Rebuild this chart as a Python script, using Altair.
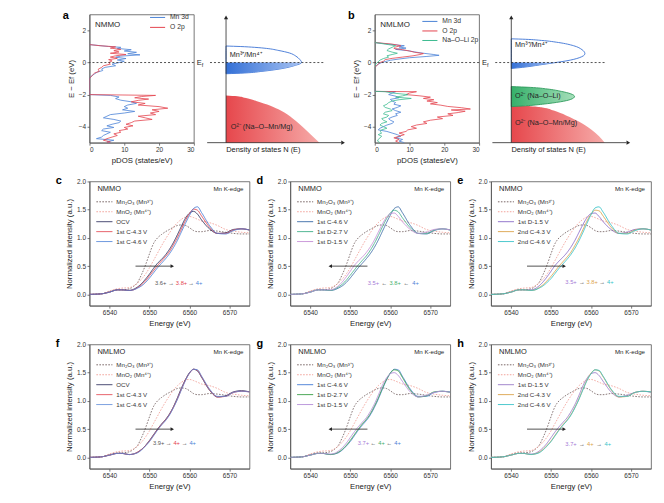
import altair as alt
import pandas as pd

FONT = "Liberation Sans"
INK = "#262626"

# ---------------- a / b : projected DOS  (E - Ef [eV], pDOS [states/eV]) ----------------
A_MN3D = [(1.12, 0), (1.0, 5.5), (0.95, 9), (0.88, 8), (0.8, 12), (0.72, 10), (0.64, 13.5), (0.55, 11),
          (0.48, 14.5), (0.40, 9), (0.33, 7.5), (0.25, 10.5), (0.16, 8), (0.08, 10), (0.0, 8.5), (-0.1, 6.5),
          (-0.2, 7.5), (-0.3, 4.5), (-0.4, 3.5), (-0.5, 3.8), (-0.6, 2.2), (-0.7, 1.5), (-0.85, 0.5), (-1.0, 0),
          (-2.0, 0), (-2.05, 6), (-2.15, 8.5), (-2.25, 7.5), (-2.35, 9), (-2.45, 12), (-2.55, 13.5), (-2.65, 11),
          (-2.75, 10), (-2.85, 11), (-2.95, 9.5), (-3.05, 13), (-3.15, 10), (-3.25, 6), (-3.35, 5), (-3.45, 4),
          (-3.55, 7), (-3.65, 9), (-3.75, 8.5), (-3.85, 6.5), (-3.95, 5), (-4.05, 7), (-4.15, 4), (-4.25, 3.5),
          (-4.35, 6), (-4.45, 5), (-4.55, 4), (-4.65, 3.5), (-4.75, 2), (-4.85, 7), (-4.95, 5), (-5.0, 6)]
A_O2P = [(1.12, 0), (1.05, 3), (0.98, 7.5), (0.9, 6), (0.82, 9), (0.74, 7), (0.66, 8.5), (0.58, 6),
         (0.5, 10.5), (0.42, 7.5), (0.34, 6), (0.26, 8), (0.18, 5.5), (0.1, 6.5), (0.0, 5.5), (-0.1, 6),
         (-0.2, 4), (-0.3, 3.5), (-0.42, 2.5), (-0.55, 2.8), (-0.65, 1.5), (-0.8, 0.8), (-0.95, 0.2), (-1.0, 0),
         (-2.0, 0), (-2.05, 19), (-2.12, 15), (-2.2, 13), (-2.28, 17), (-2.36, 14), (-2.45, 12), (-2.55, 16),
         (-2.65, 14), (-2.75, 20), (-2.85, 22.5), (-2.95, 18), (-3.05, 20), (-3.15, 17.5), (-3.25, 19),
         (-3.35, 14), (-3.45, 16), (-3.55, 18), (-3.65, 13), (-3.75, 12), (-3.85, 10.5), (-3.95, 12.5),
         (-4.05, 10), (-4.15, 11), (-4.25, 8.5), (-4.35, 9), (-4.45, 7), (-4.55, 8), (-4.65, 6.5), (-4.75, 5),
         (-4.85, 4), (-4.95, 6), (-5.0, 5)]
B_MN3D = [(1.25, 0), (1.15, 4), (1.05, 8.5), (0.97, 7), (0.9, 9), (0.82, 6), (0.74, 9.5), (0.66, 11.5),
          (0.58, 14), (0.5, 17), (0.45, 18.5), (0.38, 15), (0.3, 10), (0.22, 7), (0.14, 4.5), (0.06, 3),
          (0.0, 2), (-0.1, 1), (-0.2, 0.5), (-0.3, 0), (-1.8, 0), (-1.82, 6), (-1.9, 5), (-2.0, 4), (-2.1, 6),
          (-2.2, 7), (-2.3, 4.5), (-2.4, 5), (-2.5, 6), (-2.6, 5.5), (-2.7, 7.5), (-2.8, 6.5), (-2.9, 5),
          (-3.0, 6), (-3.1, 7.5), (-3.2, 6), (-3.3, 6.5), (-3.4, 5), (-3.5, 4), (-3.6, 4.5), (-3.7, 5.5),
          (-3.8, 5), (-3.9, 3.5), (-4.0, 2.5), (-4.1, 1.5), (-4.2, 1), (-4.3, 3.5), (-4.4, 5), (-4.5, 6.5),
          (-4.6, 7.5), (-4.7, 6), (-4.8, 8), (-4.9, 7), (-5.0, 8.5)]
B_O2P = [(1.25, 0), (1.15, 5), (1.05, 7.5), (0.97, 6), (0.88, 5.5), (0.8, 8), (0.72, 10), (0.64, 11.5),
         (0.56, 14), (0.5, 13), (0.42, 11), (0.34, 8), (0.26, 5), (0.18, 3), (0.08, 2.5), (0.0, 1.5),
         (-0.1, 1), (-0.2, 0.5), (-0.3, 0), (-1.8, 0), (-1.82, 12), (-1.9, 10), (-2.0, 9), (-2.08, 13),
         (-2.16, 16), (-2.24, 14), (-2.32, 17), (-2.4, 15), (-2.5, 18), (-2.58, 16), (-2.66, 19), (-2.74, 21),
         (-2.82, 25), (-2.9, 27.5), (-2.96, 22), (-3.04, 26), (-3.12, 24), (-3.2, 21), (-3.3, 22.5),
         (-3.4, 18), (-3.5, 19.5), (-3.6, 16), (-3.7, 14), (-3.8, 15), (-3.9, 12), (-4.0, 10.5), (-4.1, 12),
         (-4.2, 9.5), (-4.3, 9), (-4.4, 7), (-4.5, 8.5), (-4.6, 7), (-4.7, 5.5), (-4.8, 7), (-4.9, 6), (-5.0, 7)]
B_NAOLI = [(1.25, 0), (1.15, 3), (1.05, 6), (0.95, 5), (0.85, 4), (0.75, 3.5), (0.65, 5), (0.58, 6.5),
           (0.5, 5), (0.42, 3.5), (0.34, 4), (0.25, 2.5), (0.15, 1.5), (0.05, 1), (-0.05, 0.5), (-0.2, 0),
           (-1.8, 0), (-1.82, 3), (-1.9, 5), (-2.0, 9.5), (-2.08, 8), (-2.16, 6), (-2.24, 10.5), (-2.32, 7),
           (-2.4, 5), (-2.5, 4), (-2.6, 3.5), (-2.7, 2.5), (-2.8, 3), (-2.9, 4.5), (-3.0, 5), (-3.1, 3),
           (-3.2, 2.5), (-3.3, 4), (-3.4, 3.5), (-3.5, 2), (-3.6, 2.5), (-3.7, 3.5), (-3.8, 2), (-3.9, 1.5),
           (-4.0, 2.5), (-4.1, 3.5), (-4.2, 2), (-4.3, 1.5), (-4.4, 2), (-4.5, 1), (-4.6, 2), (-4.7, 1.5),
           (-4.8, 1), (-4.9, 0.8), (-5.0, 1.5)]

PDOS_NAMES_A = ["Mn 3d", "O 2p"]
PDOS_NAMES_B = ["Mn 3d", "O 2p", "Na–O–Li 2p"]
PDOS_COLORS = ["#4a82d6", "#e4444e", "#3dbb90"]

# ---------------- schematic band shapes  (E - Ef, relative N(E)) ----------------
A_MN_BAND = [(1.03, 0), (1.0, 0.15), (0.95, 0.3), (0.88, 0.43), (0.75, 0.56), (0.6, 0.67), (0.4, 0.74),
             (0.2, 0.78), (0.0, 0.8), (-0.2, 0.72), (-0.4, 0.57), (-0.55, 0.38), (-0.65, 0.2), (-0.7, 0)]
A_O_BAND = [(-2.05, 0), (-2.1, 0.12), (-2.2, 0.2), (-2.4, 0.32), (-2.7, 0.47), (-3.0, 0.58), (-3.5, 0.71),
            (-4.0, 0.81), (-4.5, 0.9), (-5.0, 0.99)]
B_MN_BAND = [(1.48, 0), (1.45, 0.15), (1.38, 0.32), (1.25, 0.5), (1.05, 0.66), (0.8, 0.75), (0.55, 0.78),
             (0.3, 0.72), (0.1, 0.58), (0.0, 0.47), (-0.15, 0.3), (-0.3, 0.12), (-0.37, 0)]
B_LI_BAND = [(-1.5, 0), (-1.55, 0.2), (-1.65, 0.38), (-1.8, 0.53), (-1.95, 0.63), (-2.12, 0.67),
             (-2.3, 0.63), (-2.45, 0.52), (-2.6, 0.33), (-2.7, 0.15), (-2.75, 0)]
B_O_BAND = [(-2.7, 0), (-2.72, 0.2), (-2.8, 0.33), (-3.0, 0.45), (-3.3, 0.58), (-3.7, 0.72), (-4.2, 0.85),
            (-4.6, 0.93), (-5.0, 0.99)]

# ---------------- XANES, Mn K-edge ----------------
ENERGY = [6535, 6538, 6540, 6542, 6543, 6545, 6546, 6547, 6548, 6549, 6550, 6551, 6552, 6553, 6554, 6555,
          6556, 6557, 6558, 6559, 6560, 6561, 6562, 6563, 6565, 6567, 6569, 6571, 6573, 6575]
MN2O3 = [0.00, 0.01, 0.05, 0.08, 0.08, 0.10, 0.14, 0.21, 0.35, 0.52, 0.72, 0.90, 1.00, 1.06, 1.11, 1.15,
         1.19, 1.22, 1.23, 1.22, 1.18, 1.13, 1.11, 1.11, 1.13, 1.12, 1.10, 1.08, 1.07, 1.07]
MNO2 = [0.00, 0.01, 0.06, 0.10, 0.11, 0.12, 0.15, 0.20, 0.27, 0.36, 0.47, 0.60, 0.73, 0.86, 0.98, 1.09,
        1.19, 1.27, 1.33, 1.37, 1.38, 1.36, 1.33, 1.30, 1.27, 1.22, 1.15, 1.12, 1.10, 1.09]
# NMMO
NMMO_OCV = [0.00, 0.01, 0.04, 0.08, 0.08, 0.07, 0.09, 0.13, 0.19, 0.27, 0.36, 0.46, 0.55, 0.62, 0.70, 0.80,
            0.92, 1.06, 1.21, 1.35, 1.44, 1.47, 1.42, 1.32, 1.16, 1.08, 1.09, 1.15, 1.16, 1.14]
NMMO_C43 = [0.00, 0.01, 0.04, 0.08, 0.08, 0.07, 0.08, 0.12, 0.17, 0.24, 0.33, 0.42, 0.51, 0.59, 0.67, 0.76,
            0.88, 1.01, 1.16, 1.31, 1.43, 1.51, 1.49, 1.39, 1.19, 1.08, 1.08, 1.14, 1.16, 1.14]
NMMO_C46 = [0.00, 0.01, 0.04, 0.08, 0.08, 0.07, 0.08, 0.11, 0.15, 0.21, 0.29, 0.38, 0.47, 0.55, 0.63, 0.72,
            0.83, 0.96, 1.11, 1.26, 1.40, 1.52, 1.55, 1.45, 1.22, 1.08, 1.07, 1.13, 1.16, 1.14]
NMMO_D27 = [0.00, 0.01, 0.04, 0.08, 0.08, 0.07, 0.09, 0.13, 0.18, 0.25, 0.34, 0.43, 0.52, 0.60, 0.68, 0.78,
            0.90, 1.04, 1.19, 1.33, 1.44, 1.49, 1.46, 1.36, 1.18, 1.08, 1.08, 1.14, 1.16, 1.14]
NMMO_D15 = [0.00, 0.01, 0.04, 0.08, 0.08, 0.08, 0.10, 0.15, 0.22, 0.31, 0.41, 0.51, 0.59, 0.66, 0.74, 0.84,
            0.96, 1.10, 1.24, 1.36, 1.43, 1.44, 1.38, 1.29, 1.15, 1.08, 1.10, 1.15, 1.16, 1.14]
NMMO_C43_2 = [0.00, 0.01, 0.04, 0.08, 0.08, 0.07, 0.08, 0.12, 0.17, 0.24, 0.32, 0.41, 0.50, 0.58, 0.66, 0.75,
              0.87, 1.00, 1.15, 1.30, 1.42, 1.49, 1.48, 1.39, 1.19, 1.08, 1.08, 1.14, 1.16, 1.14]
NMMO_C46_2 = [0.00, 0.01, 0.04, 0.08, 0.08, 0.07, 0.08, 0.11, 0.15, 0.21, 0.28, 0.37, 0.46, 0.54, 0.62, 0.71,
              0.82, 0.95, 1.10, 1.26, 1.41, 1.53, 1.55, 1.46, 1.23, 1.08, 1.07, 1.13, 1.16, 1.14]
# NMLMO
NMLMO_OCV = [0.00, 0.01, 0.04, 0.07, 0.07, 0.05, 0.06, 0.09, 0.14, 0.21, 0.30, 0.40, 0.50, 0.59, 0.67, 0.77,
             0.90, 1.06, 1.23, 1.38, 1.50, 1.56, 1.53, 1.42, 1.19, 1.07, 1.09, 1.16, 1.18, 1.16]
NMLMO_C43 = [0.00, 0.01, 0.04, 0.07, 0.07, 0.05, 0.06, 0.09, 0.14, 0.21, 0.29, 0.39, 0.49, 0.58, 0.66, 0.76,
             0.89, 1.04, 1.21, 1.37, 1.49, 1.56, 1.54, 1.43, 1.20, 1.07, 1.08, 1.15, 1.17, 1.16]
NMLMO_C46 = [0.00, 0.01, 0.04, 0.07, 0.07, 0.05, 0.06, 0.08, 0.13, 0.20, 0.28, 0.38, 0.48, 0.57, 0.65, 0.75,
             0.88, 1.03, 1.20, 1.36, 1.49, 1.56, 1.55, 1.44, 1.21, 1.08, 1.08, 1.15, 1.17, 1.16]
NMLMO_D27 = [0.00, 0.01, 0.04, 0.07, 0.07, 0.05, 0.06, 0.09, 0.14, 0.21, 0.30, 0.40, 0.50, 0.59, 0.67, 0.77,
             0.90, 1.05, 1.22, 1.37, 1.49, 1.55, 1.53, 1.42, 1.19, 1.07, 1.09, 1.16, 1.17, 1.15]
NMLMO_D15 = [0.00, 0.01, 0.04, 0.07, 0.07, 0.06, 0.07, 0.11, 0.17, 0.25, 0.35, 0.45, 0.54, 0.62, 0.70, 0.81,
             0.94, 1.10, 1.27, 1.40, 1.48, 1.50, 1.45, 1.35, 1.16, 1.07, 1.10, 1.15, 1.17, 1.15]
NMLMO_C43_2 = [0.00, 0.01, 0.04, 0.07, 0.07, 0.05, 0.06, 0.09, 0.14, 0.21, 0.29, 0.39, 0.49, 0.58, 0.66, 0.76,
               0.89, 1.04, 1.21, 1.37, 1.49, 1.55, 1.53, 1.43, 1.20, 1.07, 1.08, 1.15, 1.17, 1.16]
NMLMO_C46_2 = [0.00, 0.01, 0.04, 0.07, 0.07, 0.05, 0.06, 0.08, 0.13, 0.20, 0.28, 0.38, 0.48, 0.57, 0.65, 0.75,
               0.88, 1.03, 1.20, 1.36, 1.48, 1.55, 1.54, 1.44, 1.21, 1.08, 1.08, 1.15, 1.17, 1.16]

REF_NAMES = ["Mn₂O₃ (Mn³⁺)", "MnO₂ (Mn⁴⁺)"]
REF_COLORS = ["#7a6868", "#f2a49c"]
DASHES = [[1.6, 1.4], [1.6, 1.4], [1, 0], [1, 0], [1, 0]]

C_GRAY, C_RED, C_BLUE = "#555555", "#e3434d", "#4a7fd6"
C_PURPLE, C_GREEN, C_ORANGE, C_CYAN = "#a57ad6", "#3fae6a", "#dba24a", "#36c2c8"
C_NAVY = "#2b2d5c"


def pdos_panel(letter, sample, names, series, legend_x, legend_y, row_pad):
    rows = []
    for name, pairs in zip(names, series):
        for i, (e, d) in enumerate(pairs):
            rows.append({"series": name, "E": e, "dos": d, "i": i})
    df = pd.DataFrame(rows)
    xs = alt.Scale(domain=[0, 30], nice=False, zero=False)
    ys = alt.Scale(domain=[-5, 3], nice=False, zero=False)
    xax = alt.Axis(values=[0, 10, 20, 30], format="d", title="pDOS (states/eV)")
    yax = alt.Axis(values=[-4, -2, 0, 2], format="d", title="E − Ef (eV)")

    def X(f):
        return alt.X(f, type="quantitative", scale=xs, axis=xax)

    def Y(f):
        return alt.Y(f, type="quantitative", scale=ys, axis=yax)

    leg = alt.Legend(title=None, orient="none", legendX=legend_x, legendY=legend_y, symbolType="stroke",
                     symbolSize=230, symbolStrokeWidth=1, labelFontSize=6.8, labelOffset=4, clipHeight=8,
                     rowPadding=row_pad, padding=0)
    lines = alt.Chart(df).mark_line(strokeWidth=0.8, clip=True).encode(
        x=X("dos"), y=Y("E"),
        color=alt.Color("series:N", scale=alt.Scale(domain=names, range=PDOS_COLORS[:len(names)]), legend=leg),
        order="i:Q")
    ef = alt.Chart(pd.DataFrame({"E": [0.0]})).mark_rule(strokeDash=[2, 2], color=INK, strokeWidth=0.8).encode(
        y=Y("E"))
    tag = alt.Chart(pd.DataFrame({"x": [1.6], "E": [2.35], "t": [sample]})).mark_text(
        align="left", baseline="middle", fontSize=8, font=FONT, color=INK).encode(x=X("x"), y=Y("E"), text="t:N")
    let = alt.Chart(pd.DataFrame({"t": [letter]})).mark_text(
        align="left", baseline="middle", fontSize=11, fontWeight="bold", font=FONT, color="black").encode(
        x=alt.value(-27), y=alt.value(2), text="t:N")
    return alt.layer(lines, ef, tag, let).properties(width=105, height=129)


def schem_panel(under, mn_band, mn_fill, labels, ef_end):
    xs = alt.Scale(domain=[-0.32, 1.27], nice=False, zero=False)
    ys = alt.Scale(domain=[-5, 3], nice=False, zero=False)
    xax = alt.Axis(title="Density of states N (E)", domain=False, ticks=False, labels=False, grid=False,
                   titleAnchor="start", titleAlign="left", titleX=30, titleFontSize=7.5, titlePadding=3)

    def X(f):
        return alt.X(f, type="quantitative", scale=xs, axis=xax)

    def Y(f):
        return alt.Y(f, type="quantitative", scale=ys, axis=None)

    def band(pairs, fill, stroke=None):
        d = pd.DataFrame({"E": [p[0] for p in pairs], "N": [p[1] for p in pairs]})
        d["N0"] = 0.0
        kw = dict(orient="horizontal", interpolate="monotone", fill=fill, fillOpacity=1)
        if stroke:
            kw.update(stroke=stroke, strokeWidth=0.9)
        return alt.Chart(d).mark_area(**kw).encode(x=X("N"), x2=alt.X2("N0"), y=Y("E"))

    def grad(c1, c2):
        return alt.Gradient(gradient="linear", x1=0, x2=1, y1=0, y2=0,
                            stops=[alt.GradientStop(color=c1, offset=0), alt.GradientStop(color=c2, offset=1)])

    layers = []
    for pairs, c1, c2, st in under:
        layers.append(band(pairs, grad(c1, c2), st))
    layers.append(band(mn_band, "white", "#3b73d4"))
    layers.append(band(mn_fill, grad("#3470d6", "#a6c2f2")))

    vax = alt.Chart(pd.DataFrame({"N": [0.0], "E1": [-5.0], "E2": [2.8]})).mark_rule(
        color=INK, strokeWidth=0.8).encode(x=X("N"), y=Y("E1"), y2="E2:Q")
    hax = alt.Chart(pd.DataFrame({"E": [-5.0], "N1": [-0.2], "N2": [1.22]})).mark_rule(
        color=INK, strokeWidth=0.8).encode(y=Y("E"), x=X("N1"), x2="N2:Q")
    up = alt.Chart(pd.DataFrame({"N": [0.0], "E": [2.82]})).mark_point(
        shape="triangle-up", filled=True, size=18, color=INK, opacity=1).encode(x=X("N"), y=Y("E"))
    rt = alt.Chart(pd.DataFrame({"N": [1.24], "E": [-5.0]})).mark_point(
        shape="triangle-right", filled=True, size=18, color=INK, opacity=1).encode(x=X("N"), y=Y("E"))
    ef = alt.Chart(pd.DataFrame({"E": [0.0], "N1": [-0.17], "N2": [ef_end]})).mark_rule(
        color=INK, strokeWidth=0.8, strokeDash=[2, 2]).encode(y=Y("E"), x=X("N1"), x2="N2:Q")
    efE = alt.Chart(pd.DataFrame({"N": [-0.31], "E": [0.0], "t": ["E"]})).mark_text(
        align="left", baseline="middle", fontSize=7.5, font=FONT, color=INK).encode(x=X("N"), y=Y("E"), text="t:N")
    eff = alt.Chart(pd.DataFrame({"N": [-0.31], "E": [0.0], "t": ["f"]})).mark_text(
        align="left", baseline="middle", fontSize=5.5, font=FONT, color=INK, dx=5, dy=2.5).encode(
        x=X("N"), y=Y("E"), text="t:N")
    lab = alt.Chart(pd.DataFrame({"N": [l[1] for l in labels], "E": [l[2] for l in labels],
                                  "t": [l[0] for l in labels]})).mark_text(
        align="left", baseline="middle", fontSize=7.3, font=FONT, color=INK).encode(x=X("N"), y=Y("E"), text="t:N")
    layers += [vax, hax, up, rt, ef, efE, eff, lab]
    return alt.layer(*layers).properties(width=151, height=129, view=alt.ViewBackground(stroke="transparent"))


def xanes_panel(letter, sample, names, colors, curves, ann_text, ann_color, ann_E, ann_I, arrow):
    rows = []
    for k, (nm, ys_) in enumerate(zip(names, curves)):
        for e, v in zip(ENERGY, ys_):
            rows.append({"s": nm, "E": e, "I": v, "k": k})
    df = pd.DataFrame(rows)
    xs = alt.Scale(domain=[6535, 6575], nice=False, zero=False)
    ys = alt.Scale(domain=[-0.2, 2.0], nice=False, zero=False)
    xax = alt.Axis(values=[6540, 6550, 6560, 6570], format="d", title="Energy (eV)")
    yax = alt.Axis(values=[0, 0.5, 1.0, 1.5, 2.0], format=".1f", title="Normalized intensity (a.u.)")

    def X(f):
        return alt.X(f, type="quantitative", scale=xs, axis=xax)

    def Y(f):
        return alt.Y(f, type="quantitative", scale=ys, axis=yax)

    leg = alt.Legend(title=None, orient="none", legendX=6, legendY=16.5, symbolType="stroke", symbolSize=260,
                     symbolStrokeWidth=1, labelFontSize=6.2, labelOffset=3, clipHeight=8, rowPadding=2.0,
                     padding=0)
    lines = alt.Chart(df).mark_line(strokeWidth=0.9, interpolate="monotone", clip=True).encode(
        x=X("E"), y=Y("I"),
        color=alt.Color("s:N", scale=alt.Scale(domain=names, range=colors), legend=leg),
        strokeDash=alt.StrokeDash("s:N", scale=alt.Scale(domain=names, range=DASHES), legend=leg),
        order="E:Q")
    e1, e2, ai, direction = arrow
    ar = alt.Chart(pd.DataFrame({"E1": [e1], "E2": [e2], "I": [ai]})).mark_rule(
        color=INK, strokeWidth=0.8).encode(x=X("E1"), x2="E2:Q", y=Y("I"))
    hd = alt.Chart(pd.DataFrame({"E": [e2 if direction == "right" else e1], "I": [ai]})).mark_point(
        shape="triangle-right" if direction == "right" else "triangle-left", filled=True, size=16,
        color=INK, opacity=1).encode(x=X("E"), y=Y("I"))
    an = alt.Chart(pd.DataFrame({"E": ann_E, "I": [ann_I] * len(ann_E), "t": ann_text, "c": ann_color})).mark_text(
        fontSize=5.8, font=FONT, baseline="middle").encode(
        x=X("E"), y=Y("I"), text="t:N", color=alt.Color("c:N", scale=None))
    tag = alt.Chart(pd.DataFrame({"E": [6537.0], "I": [1.87], "t": [sample]})).mark_text(
        align="left", baseline="middle", fontSize=7.5, font=FONT, color=INK).encode(x=X("E"), y=Y("I"), text="t:N")
    edge = alt.Chart(pd.DataFrame({"E": [6573.5], "I": [1.86], "t": ["Mn K-edge"]})).mark_text(
        align="right", baseline="middle", fontSize=6.2, font=FONT, color=INK).encode(x=X("E"), y=Y("I"), text="t:N")
    let = alt.Chart(pd.DataFrame({"t": [letter]})).mark_text(
        align="left", baseline="middle", fontSize=11, fontWeight="bold", font=FONT, color="black").encode(
        x=alt.value(-34), y=alt.value(0), text="t:N")
    return alt.layer(lines, ar, hd, an, tag, edge, let).properties(width=161, height=125)


IND = dict(color="independent", strokeDash="independent")

a1 = pdos_panel("a", "NMMO", PDOS_NAMES_A, [A_MN3D, A_O2P], 60, -1, 2)
a2 = schem_panel([(A_O_BAND, "#e6474c", "#f6aaa8", None)], A_MN_BAND,
                 [p for p in A_MN_BAND if p[0] <= 0],
                 [("Mn³⁺/Mn⁴⁺", 0.04, 0.5), ("O²⁻ (Na–O–Mn/Mg)", 0.05, -4.0)], 1.04)
b1 = pdos_panel("b", "NMLMO", PDOS_NAMES_B, [B_MN3D, B_O2P, B_NAOLI], 47, 3, 1.6)
b2 = schem_panel([(B_O_BAND, "#e6474c", "#f6aaa8", None), (B_LI_BAND, "#35b06a", "#a5dfba", "#2e9a5c")],
                 B_MN_BAND, [p for p in B_MN_BAND if p[0] <= 0],
                 [("Mn³⁺/Mn⁴⁺", 0.04, 1.1), ("O²⁻ (Na–O–Li)", 0.04, -2.1), ("O²⁻ (Na–O–Mn/Mg)", 0.04, -3.8)], 1.0)

c = xanes_panel("c", "NMMO", REF_NAMES + ["OCV", "1st C-4.3 V", "1st C-4.6 V"],
                REF_COLORS + [C_NAVY, C_RED, C_BLUE], [MN2O3, MNO2, NMMO_OCV, NMMO_C43, NMMO_C46],
                ["3.6+", "→", "3.8+", "→", "4+"], [C_GRAY, INK, C_RED, INK, C_BLUE],
                [6552.8, 6555.4, 6558.0, 6560.4, 6562.4], 0.2, (6546.5, 6555.7, 0.5, "right"))
d = xanes_panel("d", "NMMO", REF_NAMES + ["1st C-4.6 V", "1st D-2.7 V", "1st D-1.5 V"],
                REF_COLORS + ["#3f6ea8", "#45b08a", "#c690d6"], [MN2O3, MNO2, NMMO_C46, NMMO_D27, NMMO_D15],
                ["3.5+", "←", "3.8+", "←", "4+"], [C_PURPLE, INK, C_GREEN, INK, C_BLUE],
                [6555.8, 6558.5, 6561.2, 6564.0, 6566.3], 0.2, (6545.0, 6554.3, 0.5, "left"))
e = xanes_panel("e", "NMMO", REF_NAMES + ["1st D-1.5 V", "2nd C-4.3 V", "2nd C-4.6 V"],
                REF_COLORS + ["#8a6cc8", C_ORANGE, C_CYAN], [MN2O3, MNO2, NMMO_D15, NMMO_C43_2, NMMO_C46_2],
                ["3.5+", "→", "3.8+", "→", "4+"], [C_PURPLE, INK, C_ORANGE, INK, C_CYAN],
                [6555.0, 6557.7, 6560.3, 6562.8, 6564.8], 0.22, (6544.0, 6553.3, 0.5, "right"))
f = xanes_panel("f", "NMLMO", REF_NAMES + ["OCV", "1st C-4.3 V", "1st C-4.6 V"],
                REF_COLORS + [C_NAVY, C_RED, "#5b88d8"], [MN2O3, MNO2, NMLMO_OCV, NMLMO_C43, NMLMO_C46],
                ["3.9+", "→", "4+", "→", "4+"], [C_GRAY, INK, C_RED, INK, C_BLUE],
                [6552.3, 6554.8, 6556.8, 6558.8, 6560.8], 0.26, (6546.5, 6555.7, 0.5, "right"))
g = xanes_panel("g", "NMLMO", REF_NAMES + ["1st C-4.6 V", "1st D-2.7 V", "1st D-1.5 V"],
                REF_COLORS + [C_BLUE, "#3da04a", "#b58fd8"], [MN2O3, MNO2, NMLMO_C46, NMLMO_D27, NMLMO_D15],
                ["3.7+", "←", "4+", "←", "4+"], [C_PURPLE, INK, C_GREEN, INK, C_BLUE],
                [6553.3, 6555.8, 6557.8, 6559.8, 6561.8], 0.26, (6545.0, 6554.3, 0.5, "left"))
h = xanes_panel("h", "NMLMO", REF_NAMES + ["1st D-1.5 V", "2nd C-4.3 V", "2nd C-4.6 V"],
                REF_COLORS + ["#9a7cc8", C_ORANGE, C_CYAN], [MN2O3, MNO2, NMLMO_D15, NMLMO_C43_2, NMLMO_C46_2],
                ["3.7+", "→", "4+", "→", "4+"], [C_PURPLE, INK, C_ORANGE, INK, C_CYAN],
                [6555.0, 6557.7, 6559.8, 6562.0, 6564.2], 0.24, (6544.0, 6553.3, 0.5, "right"))

row1 = alt.hconcat(a1, a2, b1, b2, spacing=0).resolve_scale(**IND)
row2 = alt.hconcat(c, d, e, spacing=5).resolve_scale(**IND)
row3 = alt.hconcat(f, g, h, spacing=5).resolve_scale(**IND)

chart = alt.vconcat(row1, row2, row3, spacing=10).resolve_scale(**IND).properties(
    padding={"left": 47, "top": 0, "right": 4, "bottom": 2}
).configure(font=FONT).configure_axis(
    labelFont=FONT, titleFont=FONT, labelFontSize=6.5, titleFontSize=7.8, titleFontWeight="normal",
    labelColor="#333333", titleColor="#222222", domainColor="#555555", tickColor="#555555",
    domainWidth=0.8, tickWidth=0.8, tickSize=2.5, labelPadding=1.5, titlePadding=3, grid=False
).configure_view(stroke="#555555", strokeWidth=0.8).configure_legend(labelFont=FONT, labelColor="#333333")

chart.save("out.html", embed_options={"renderer": "svg", "actions": False})
